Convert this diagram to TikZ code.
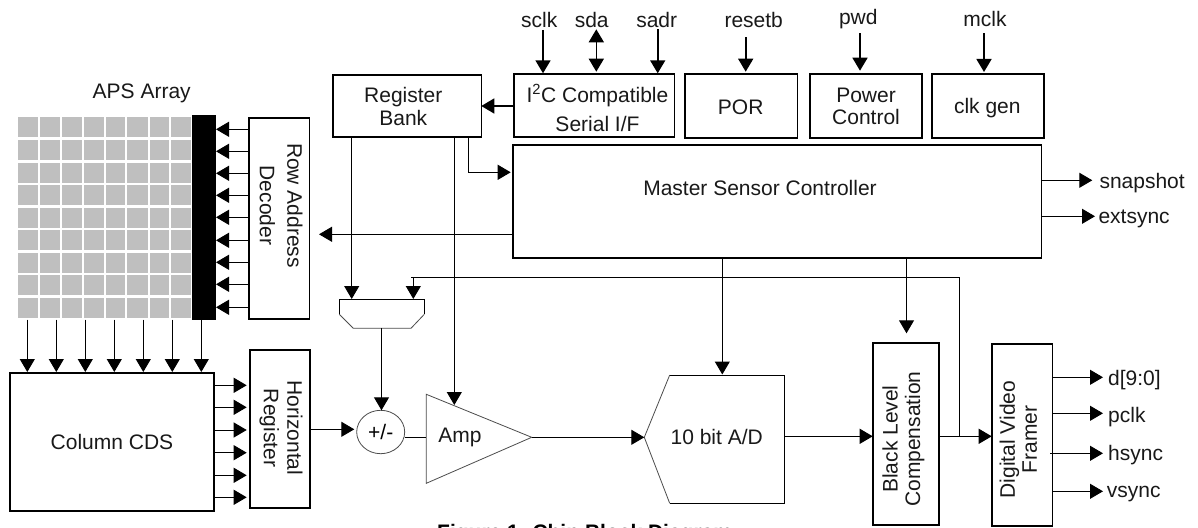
\documentclass[tikz,border=0pt]{standalone}
\usepackage{fontspec}
\setmainfont{Liberation Sans}
\usetikzlibrary{arrows.meta,shapes.geometric}
\newcommand{\blk}[8]{%
  \pgfmathsetmacro{\bw}{#4-#2}\pgfmathsetmacro{\bh}{#5-#3}%
  \pgfmathsetmacro{\bx}{(#4+#2)/2}\pgfmathsetmacro{\by}{(#5+#3)/2}%
  \node[blkst,minimum width=\bw pt,minimum height=\bh pt] (#1) at (\bx,\by) {};
  \node[txtst] (#1t) at (#6,#7) {#8};
}
\newcommand{\vtxt}[4]{\rotatebox{#1}{\begin{tabular}{@{}c@{}}#3\\[#2]#4\end{tabular}}}
\tikzset{
  blkst/.style={draw=black,line width=1.6pt,inner sep=0pt,outer sep=0pt},
  txtst/.style={font=\fontsize{21}{21}\selectfont,align=center,inner sep=0pt,text=black!90},
  arr/.style={line width=1pt,-{Triangle[length=13pt,width=15pt]}},
  arrb/.style={line width=1.6pt,-{Triangle[length=13pt,width=15pt]}},
  conn/.style={line width=1pt},
  thin shape/.style={draw=black!70,line width=0.8pt},
  cell/.style={fill=black!25,draw=none}
}
\begin{document}
\begin{tikzpicture}[x=1pt,y=-1pt]
\useasboundingbox (0,0) rectangle (1198,527);
\clip (0,0) rectangle (1198,527);
\fill[white] (0,0) rectangle (1198,527);
% APS array
\foreach \xa/\xb in {18/38,40/60,62/82,84/104,106/125,127/148,150/169,171/191}
  \foreach \ya/\yb in {117/137,139.7/159.7,162.7/182.7,185/205,208/228,230.3/250.3,253/273,275/295,298/318}
    \fill[cell] (\xa,\ya) rectangle (\xb,\yb);
\node[fill=black,inner sep=0pt,outer sep=0pt,minimum width=24pt,minimum height=205pt] (bar) at (204,217.5) {};
\node[txtst] (apslabel) at (141.7,93) {APS Array};
% blocks
\blk{dec}{248.7}{117.7}{309.3}{319}{278}{205.5}{\vtxt{-90}{6pt}{Row Address}{Decoder}}
\blk{cds}{10}{372.7}{214}{511}{112}{442}{Column CDS}
\blk{hreg}{250}{350}{310}{507.7}{280}{428}{\vtxt{-90}{2pt}{Horizontal}{Register}}
\blk{rb}{333}{75}{481.3}{136.7}{403.3}{106.5}{Register\\[1.5pt]Bank}
\blk{i2c}{513.7}{74}{674.3}{136.7}{597.5}{108}{I\textsuperscript{2}C Compatible\\[8pt]Serial I/F}
\blk{por}{685}{74}{797.3}{137.7}{740.7}{107.3}{POR}
\blk{pwr}{809.7}{74}{922}{137.7}{866}{106.5}{Power\\[1.5pt]Control}
\blk{clk}{931.7}{74}{1044}{137.7}{987.3}{108.3}{clk gen}
\blk{msc}{512.7}{145}{1041.3}{257.7}{760}{187.7}{Master Sensor Controller}
\blk{blc}{872.7}{342.7}{939}{525}{904.5}{439}{\vtxt{90}{1pt}{Black Level}{Compensation}}
\blk{dvf}{991.7}{343.7}{1052.3}{525.7}{1021.5}{439.5}{\vtxt{90}{1pt}{Digital Video}{Framer}}
% shapes
\draw[thin shape] (426.3,394.3) coordinate (ampa) -- (426.3,483.3) -- (531.7,437.3) coordinate (ampo) -- cycle;
\coordinate (ampi) at (426.3,437.3);
\node[txtst] (amplabel) at (460,437.5) {Amp};
\draw[line width=1pt] (669.7,375) -- (784.3,375) coordinate (adct) -- (784.3,503.3) -- (669.7,503.3);
\draw[thin shape] (669.7,503.3) -- (644.3,437.3) coordinate (adci) -- (669.7,375);
\coordinate (adco) at (784.3,436.3);
\node[txtst] (adclabel) at (716.7,436.5) {10 bit A/D};
\draw[line width=1pt] (339.3,314.3) -- (339.3,299) -- (424.3,299) -- (424.3,314.3);
\draw[thin shape] (424.3,314.3) -- (411,328.3) -- (353.3,328.3) -- (339.3,314.3);
\coordinate (muxt) at (381.3,299);
\coordinate (muxb) at (381.5,328.3);
\node[draw=black!70,line width=0.8pt,ellipse,inner sep=0pt,outer sep=0pt,minimum width=48pt,minimum height=43.4pt,font=\fontsize{21}{21}\selectfont] (sum) at (380.7,432) {+/-};
% row decoder arrows
\foreach \y in {129.3,151.3,173.3,195.3,217.3,240.3,262.3,284.3,307.3}
  \draw[arr] (dec.west |- 0,\y) -- (bar.east |- 0,\y);
% column arrows
\foreach \x in {27.3,56.3,85.3,114.3,143.3,172.3,201.3}
  \draw[arr] (\x,319.5) -- (\x,372);
% cds to horizontal register
\foreach \y in {385.3,407.3,430,452.7,475.3,497.3}
  \draw[arr] (cds.east |- 0,\y) -- (246.7,\y);
\draw[arr] (hreg.east |- 0,429.3) -- (354.3,429.3);
\draw[conn] (sum.east |- 0,437.3) -- (ampi);
\draw[arr] (ampo) -- (adci);
\draw[arr] (adco) -- (blc.west |- adco);
\draw[arr] (blc.east |- adco) -- (dvf.west |- adco);
% register bank outputs
\draw[arr] (rb.south -| 351.7,0) -- (351.7,299);
\draw[arr] (rb.south -| 454.3,0) -- (454.3,405);
\draw[arr] (rb.south -| 468.3,0) -- (468.3,172.3) -- (510.7,172.3);
\draw[arrb] (i2c.west |- 0,106) -- (rb.east |- 0,106);
% controller
\draw[arr] (msc.west |- 0,234.3) -- (319,234.3);
\draw[arr] (msc.south -| 722.3,0) -- (722.3,374.5);
\draw[arr] (msc.south -| 906.5,0) -- (906.5,333.3);
\draw[arr] (msc.east |- 0,180.3) -- (1092.3,180.3);
\draw[arr] (msc.east |- 0,216.3) -- (1095,216.3);
\node[txtst,anchor=west] (snap) at (1099.3,183) {snapshot};
\node[txtst,anchor=west] (ext) at (1098.3,219) {extsync};
% feedback
\draw[conn] (959.3,436.3) -- (959.3,277.3) -- (411,277.3);
\draw[arr] (413.3,277.3) -- (413.3,299);
\draw[arr] (muxb) -- (sum.north -| muxb);
% top inputs
\node[txtst] (lsclk) at (539.3,19.5) {sclk};
\node[txtst] (lsda) at (591.7,19.5) {sda};
\node[txtst] (lsadr) at (656.7,19.5) {sadr};
\node[txtst] (lreset) at (753.7,19.5) {resetb};
\node[txtst] (lpwd) at (858.3,19.5) {pwd};
\node[txtst] (lmclk) at (985,19) {mclk};
\draw[arrb] (543,30) -- (543,73.3);
\draw[line width=1.6pt,{Triangle[length=13pt,width=15pt]}-{Triangle[length=13pt,width=15pt]}] (596.3,29.3) -- (596.3,71.7);
\draw[arrb] (657.7,29.3) -- (657.7,73.3);
\draw[arrb] (745.7,37.3) -- (745.7,71.7);
\draw[arrb] (860,33.3) -- (860,70.7);
\draw[arrb] (984,33.3) -- (984,72);
% framer outputs
\draw[arr] (dvf.east |- 0,377.3) -- (1103,377.3);
\draw[arr] (dvf.east |- 0,413.3) -- (1103,413.3);
\draw[arr] (1050,453.3) -- (1103,453.3);
\draw[arr] (dvf.east |- 0,491.3) -- (1103,491.3);
\node[txtst,anchor=west] (ld) at (1108,380) {d[9:0]};
\node[txtst,anchor=west] (lp) at (1108,416.7) {pclk};
\node[txtst,anchor=west] (lh) at (1108,455) {hsync};
\node[txtst,anchor=west] (lv) at (1106.7,494) {vsync};
\node[font=\fontsize{21}{21}\selectfont\bfseries,anchor=base west,inner sep=0pt] (cap) at (437,539) {Figure 1. Chip Block Diagram};
\end{tikzpicture}
\end{document}
